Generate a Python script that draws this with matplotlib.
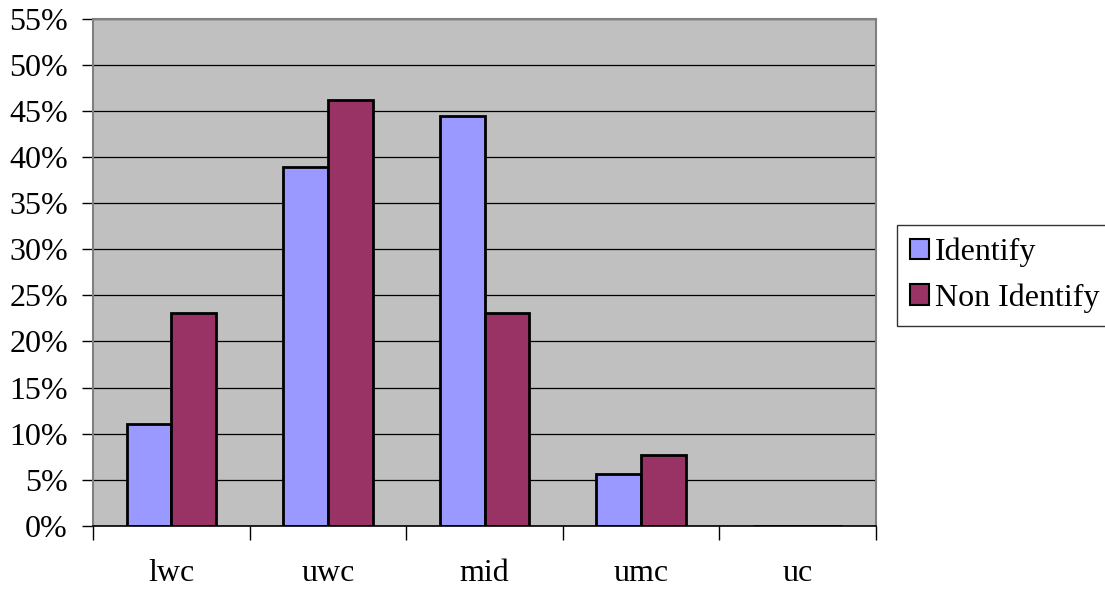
import matplotlib
matplotlib.use("Agg")
import matplotlib.pyplot as plt
from matplotlib.patches import Patch
from matplotlib.ticker import MultipleLocator, FuncFormatter
import numpy as np

categories = ["lwc", "uwc", "mid", "umc", "uc"]
identify = [11.1, 38.9, 44.4, 5.6, 0.0]
non_identify = [23.1, 46.2, 23.1, 7.7, 0.0]
series_names = ["Identify", "Non Identify"]
series_colors = ["#9999FF", "#993366"]

plt.rcParams["font.family"] = ["Liberation Serif", "DejaVu Serif"]

fig = plt.figure(figsize=(11.05, 5.89), dpi=100)
W, H = 1105, 589
left, right, top, bottom = 93, 876, 18.5, 526
ax = fig.add_axes([left / W, 1 - bottom / H, (right - left) / W, (bottom - top) / H])
ax.set_facecolor("#C0C0C0")

x = np.arange(len(categories))
bw = 1 / 3.5
ax.bar(x - bw / 2, identify, width=bw, color=series_colors[0], edgecolor="black", linewidth=2.0, zorder=3)
ax.bar(x + bw / 2, non_identify, width=bw, color=series_colors[1], edgecolor="black", linewidth=2.0, zorder=3)

ax.set_xlim(-0.5, len(categories) - 0.5)
ax.set_ylim(0, 55)
ax.yaxis.set_major_locator(MultipleLocator(5))
ax.yaxis.set_major_formatter(FuncFormatter(lambda v, p: f"{v:.0f}%"))
ax.grid(axis="y", color="black", linewidth=0.9, zorder=1)

ax.set_xticks(np.arange(len(categories) + 1) - 0.5)
ax.set_xticklabels([])
ax.set_xticks(x, minor=True)
ax.set_xticklabels(categories, minor=True)
ax.tick_params(axis="x", which="major", direction="out", length=10, width=1, color="black")
ax.tick_params(axis="x", which="minor", length=0, pad=24, labelsize=23)
ax.tick_params(axis="y", direction="out", length=8, width=1, color="black", labelsize=23, pad=10)

for side in ["left", "top", "right"]:
    ax.spines[side].set_color("#808080")
    ax.spines[side].set_linewidth(1.5)
ax.spines["bottom"].set_color("black")
ax.spines["bottom"].set_linewidth(1.2)
ax.spines["bottom"].set_zorder(4)

handles = [Patch(facecolor=c, edgecolor="black", linewidth=1.5) for c in series_colors]
leg = fig.legend(handles, series_names, loc="upper left",
                 bbox_to_anchor=(897 / W, 1 - 225 / H), fontsize=23,
                 frameon=True, fancybox=False, edgecolor="black",
                 handlelength=0.6, handleheight=0.6, handletextpad=0.2,
                 borderpad=0.4, labelspacing=0.5, borderaxespad=0)
leg.get_frame().set_linewidth(1.0)

fig.savefig("out.png", dpi=100)
